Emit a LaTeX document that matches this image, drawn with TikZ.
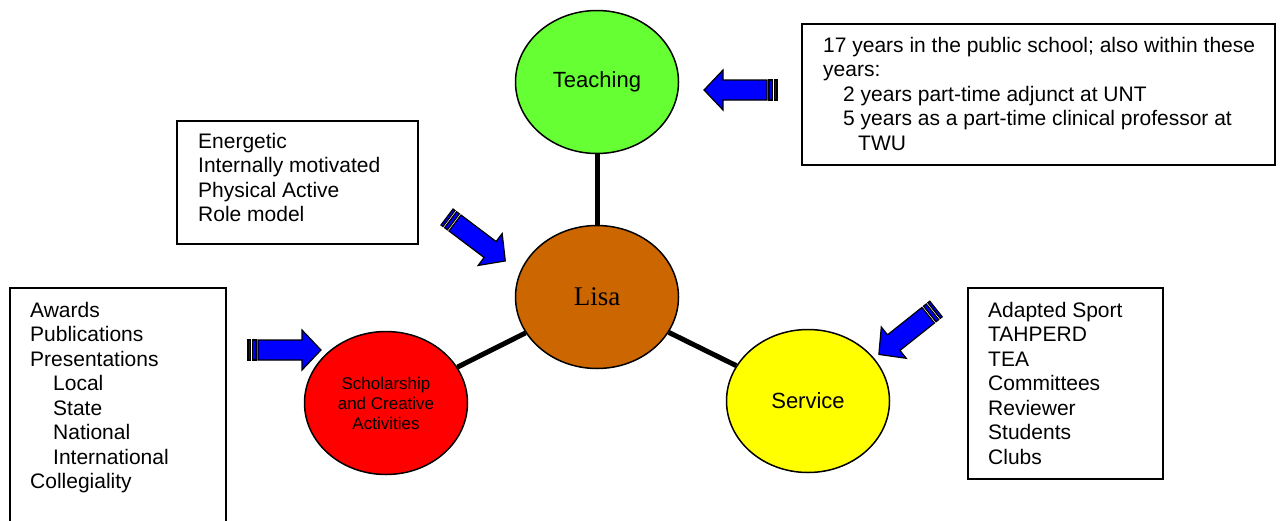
\documentclass[tikz,border=0pt]{standalone}
\usepackage{fontspec}
\setmainfont{Liberation Serif}
\newfontfamily\arialfont{Liberation Sans}
\usetikzlibrary{shapes.geometric}
\definecolor{arrowblue}{HTML}{0000FF}
\definecolor{teachgreen}{HTML}{66FF33}
\definecolor{lisabrown}{HTML}{CC6600}
\definecolor{scholred}{HTML}{FF0000}
\definecolor{servyellow}{HTML}{FFFF00}
\begin{document}
\begin{tikzpicture}[x=1pt,y=-1pt,
  bubble/.style={ellipse, draw=black, line width=1.5pt, minimum width=163pt, minimum height=143pt, inner sep=0pt, font=\arialfont\fontsize{22}{26}\selectfont, align=center},
  infobox/.style={draw=black, line width=1.5pt, anchor=north west, inner sep=0pt},
  boxtext/.style={anchor=base west, align=left, inner sep=0pt, font=\arialfont\fontsize{21}{24.5}\selectfont},
  spoke/.style={line width=5pt},
  blockarrow/.style={fill=arrowblue, draw=black, line width=1.2pt, line join=miter},
  stripearrow/.pic={
    \path[blockarrow] (0,-10) rectangle (2.5,10);
    \path[blockarrow] (4.5,-10) rectangle (8,10);
    \path[blockarrow] (10,-10) -- (54,-10) -- (54,-20) -- (73,0) -- (54,20) -- (54,10) -- (10,10) -- cycle;
  }
]
\useasboundingbox (0,0) rectangle (1282,520);

% bubbles
\node[bubble, fill=teachgreen] (teach) at (597,82) {\raisebox{5pt}{Teaching}};
\node[bubble, fill=lisabrown, font=\fontsize{27}{30}\selectfont] (lisa) at (597,297) {Lisa};
\node[bubble, fill=scholred, font=\arialfont\fontsize{17}{20}\selectfont] (schol) at (386,403) {Scholarship\\and Creative\\Activities};
\node[bubble, fill=servyellow] (serv) at (808,401) {Service};

% spokes
\draw[spoke] (teach) -- (lisa);
\draw[spoke] (lisa) -- (schol);
\draw[spoke] (lisa) -- (serv);

% boxes (text anchored at the baseline of its last line)
\node[infobox, minimum width=473pt, minimum height=141pt] (tbox) at (801,23) {};
\node[boxtext] (ttext) at (823,150) {17 years in the public school; also within these\\years:\\\hspace*{20pt}2 years part-time adjunct at UNT\\\hspace*{20pt}5 years as a part-time clinical professor at\\\hspace*{35pt}TWU};

\node[infobox, minimum width=241pt, minimum height=123pt] (ebox) at (176,120) {};
\node[boxtext] (etext) at (198,221.5) {Energetic\\Internally motivated\\Physical Active\\Role model};

\node[infobox, minimum width=216pt, minimum height=250pt] (abox) at (9,287) {};
\node[boxtext] (atext) at (30,488.5) {Awards\\Publications\\Presentations\\\hspace*{23pt}Local\\\hspace*{23pt}State\\\hspace*{23pt}National\\\hspace*{23pt}International\\Collegiality};

\node[infobox, minimum width=195pt, minimum height=191pt] (sbox) at (967,287) {};
\node[boxtext] (stext) at (988,464) {Adapted Sport\\TAHPERD\\TEA\\Committees\\Reviewer\\Students\\Clubs};

% striped block arrows
\pic[rotate=180] at (777,90) {stripearrow};
\pic[rotate=-37] at (447,217) {stripearrow};
\pic at (248,350) {stripearrow};
\pic[rotate=-141.5] at (936,309) {stripearrow};
\end{tikzpicture}
\end{document}
